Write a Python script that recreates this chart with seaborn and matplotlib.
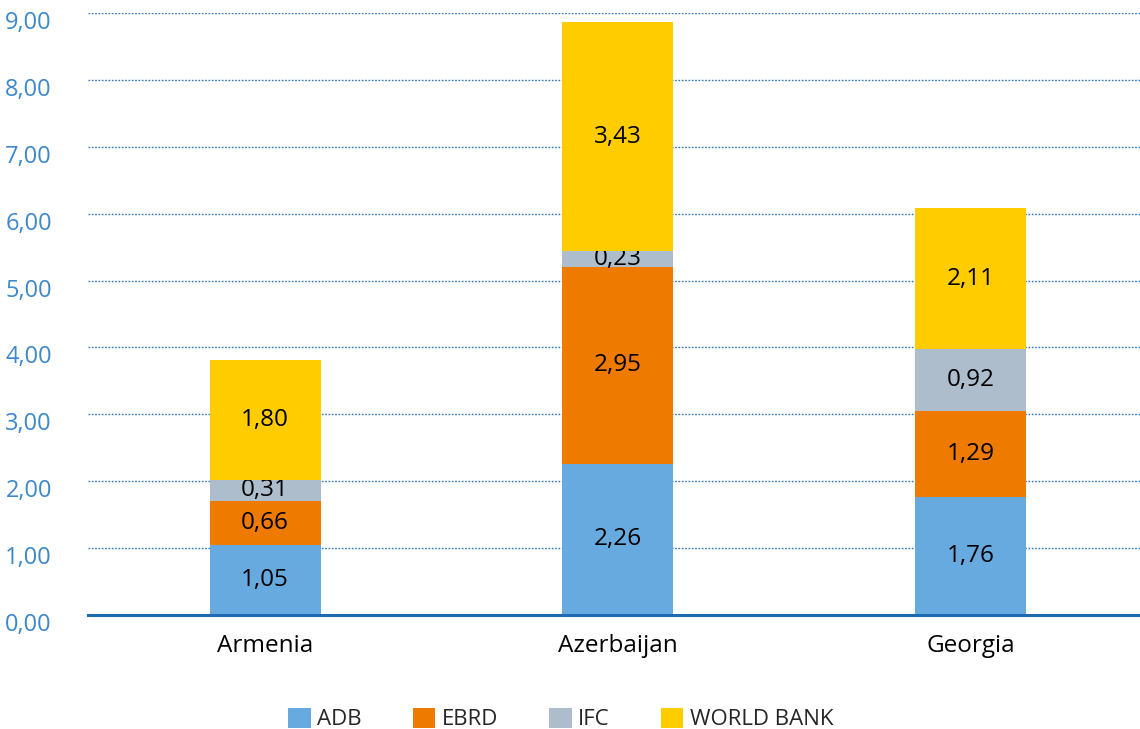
import numpy as np
import pandas as pd
import matplotlib
matplotlib.use("Agg")
import matplotlib.pyplot as plt
import matplotlib.transforms as mtransforms
from matplotlib.patches import Patch
import seaborn as sns

# Data
countries = ["Armenia", "Azerbaijan", "Georgia"]
series = ["ADB", "EBRD", "IFC", "WORLD BANK"]
adb = [1.05, 2.26, 1.76]
ebrd = [0.66, 2.95, 1.29]
ifc = [0.31, 0.23, 0.92]
world_bank = [1.80, 3.43, 2.11]
yticks = np.arange(0, 10, 1)

colors = ["#67AADF", "#EE7B00", "#ADBDCC", "#FFCC00"]

sns.set_theme(style="white")
plt.rcParams["font.family"] = ["Open Sans", "DejaVu Sans"]

df = pd.DataFrame({"country": countries, "ADB": adb, "EBRD": ebrd,
                   "IFC": ifc, "WORLD BANK": world_bank})

fig = plt.figure(figsize=(11.4, 7.29), dpi=100)
ax = fig.add_axes([0.0772, 0.1564, 0.9228, 0.8256])

bottom = np.zeros(len(countries))
for name, col in zip(series, colors):
    sns.barplot(data=df, x="country", y=name, color=col, width=0.315,
                bottom=bottom, saturation=1, linewidth=0, ax=ax, zorder=3)
    cont = ax.containers[-1]
    ax.bar_label(cont, labels=[f"{v:.2f}".replace(".", ",") for v in df[name]],
                 label_type="center", fontsize=17.5, color="black")
    bottom = bottom + df[name].values

ax.set_xlim(-0.502, 2.48)
ax.set_ylim(0, 9)
ax.set_yticks(yticks)
ax.set_yticklabels([f"{v:.2f}".replace(".", ",") for v in yticks],
                   color="#3D88C9", fontsize=17)
ax.tick_params(axis="y", length=0, pad=26)
ax.tick_params(axis="x", length=0, pad=14, labelsize=17.5, labelcolor="black")
ax.set_xlabel("")
ax.set_ylabel("")

# tick labels sit a little below their gridlines in the original
shift = mtransforms.ScaledTranslation(0, -5 / 72, fig.dpi_scale_trans)
for lab in ax.get_yticklabels():
    lab.set_transform(lab.get_transform() + shift)

ax.yaxis.grid(True, linestyle=(0, (1.2, 1.2)), color="#2F77BA", linewidth=1.0, zorder=0)
ax.xaxis.grid(False)
for s in ["top", "right", "left"]:
    ax.spines[s].set_visible(False)
ax.spines["bottom"].set_color("#1E6AB0")
ax.spines["bottom"].set_linewidth(2.2)
ax.spines["bottom"].set_zorder(4)

handles = [Patch(facecolor=c, edgecolor="none") for c in colors]
fig.legend(handles, series, loc="center", bbox_to_anchor=(0.492, 0.0135),
           ncol=4, frameon=False, fontsize=16, handlelength=1.0, handleheight=1.0,
           handletextpad=0.3, columnspacing=2.3)

fig.savefig("out.png", dpi=100)
